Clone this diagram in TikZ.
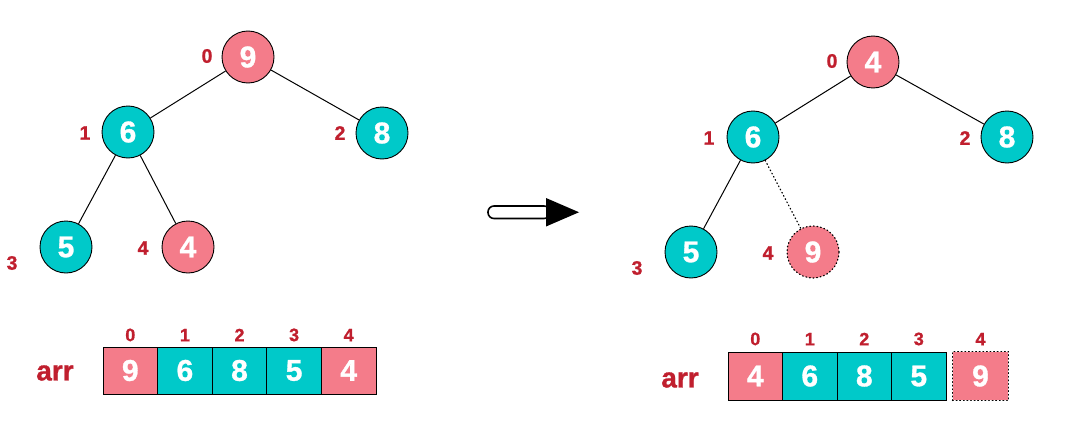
\documentclass[tikz,border=0pt]{standalone}
\usepackage{fontspec}
\setmainfont{Liberation Sans}[BoldFeatures={FakeBold=1}]
\definecolor{pinkc}{HTML}{F47C8A}
\definecolor{tealc}{HTML}{00C9C9}
\definecolor{labred}{HTML}{C01F2E}
\begin{document}
\begin{tikzpicture}[x=1pt,y=-1pt,
  hnode/.style={circle,draw=black,line width=0.9pt,minimum size=52pt,inner sep=0pt,
    text=white,font=\fontsize{30}{30}\selectfont\bfseries},
  pk/.style={fill=pinkc},
  tl/.style={fill=tealc},
  idx/.style={text=labred,font=\fontsize{19.5}{19.5}\selectfont\bfseries,inner sep=0pt},
  aidx/.style={text=labred,font=\fontsize{18}{18}\selectfont\bfseries,inner sep=0pt},
  arrlab/.style={text=labred,font=\fontsize{28}{28}\selectfont\bfseries,inner sep=0pt},
  cell/.style={draw=black,line width=0.9pt,minimum width=54.6pt,minimum height=47pt,inner sep=0pt,
    text=white,font=\fontsize{30}{30}\selectfont\bfseries},
  edge/.style={line width=1pt},
  dotline/.style={line width=1.2pt,dash pattern=on 0.8pt off 2.8pt,line cap=round}
]
\useasboundingbox (0,0) rectangle (1086,420);

% ---------- left tree ----------
\node[hnode,pk] (a0) at (248,57) {9};
\node[hnode,tl] (a1) at (128,132) {6};
\node[hnode,tl] (a2) at (382,133) {8};
\node[hnode,tl] (a3) at (66,247) {5};
\node[hnode,pk] (a4) at (188,247) {4};
\draw[edge] (a0) -- (a1);
\draw[edge] (a0) -- (a2);
\draw[edge] (a1) -- (a3);
\draw[edge] (a1) -- (a4);
\node[idx] (la0) at (207,56) {0};
\node[idx] (la1) at (85,133) {1};
\node[idx] (la2) at (340,133) {2};
\node[idx] (la3) at (12,263) {3};
\node[idx] (la4) at (143,248) {4};

% ---------- left array ----------
\node[arrlab] (arrA) at (55,373) {arr};
\node[cell,pk] (c0) at (130.3,370.5) {9};
\node[cell,tl] (c1) at (184.9,370.5) {6};
\node[cell,tl] (c2) at (239.5,370.5) {8};
\node[cell,tl] (c3) at (294.1,370.5) {5};
\node[cell,pk] (c4) at (348.7,370.5) {4};
\foreach \i in {0,...,4} \node[aidx,above=5pt] (ci\i) at (c\i.north) {\i};

% ---------- arrow ----------
\draw[line width=1.6pt,fill=white,rounded corners=6pt] (488,206) rectangle (550,218.5);
\fill (546,198) -- (579,212.25) -- (546,226.5) -- cycle;

% ---------- right tree ----------
\node[hnode,pk] (b0) at (873,62) {4};
\node[hnode,tl] (b1) at (753,137) {6};
\node[hnode,tl] (b2) at (1007,137) {8};
\node[hnode,tl] (b3) at (691,252) {5};
\node[circle,minimum size=52pt,inner sep=0pt,fill=pinkc,text=white,
  font=\fontsize{30}{30}\selectfont\bfseries] (b4) at (813,252) {9};
\draw[dotline] (b4.center) circle (26pt);
\draw[edge] (b0) -- (b1);
\draw[edge] (b0) -- (b2);
\draw[edge] (b1) -- (b3);
\draw[dotline] (b1) -- (b4);
\node[idx] (lb0) at (832,61) {0};
\node[idx] (lb1) at (709,138) {1};
\node[idx] (lb2) at (965,138) {2};
\node[idx] (lb3) at (637,268) {3};
\node[idx] (lb4) at (768,253) {4};

% ---------- right array ----------
\node[arrlab] (arrB) at (680,380) {arr};
\node[cell,pk,minimum height=48pt,minimum width=54.5pt] (d0) at (755.3,376) {4};
\node[cell,tl,minimum height=48pt,minimum width=54.5pt] (d1) at (809.8,376) {6};
\node[cell,tl,minimum height=48pt,minimum width=54.5pt] (d2) at (864.3,376) {8};
\node[cell,tl,minimum height=48pt,minimum width=54.5pt] (d3) at (918.8,376) {5};
\node[cell,pk,draw=none,minimum height=48pt,minimum width=55pt] (d4) at (980.5,376) {9};
\draw[dotline] (d4.south west) rectangle (d4.north east);
\foreach \i in {0,...,4} \node[aidx,above=6pt] (di\i) at (d\i.north) {\i};
\end{tikzpicture}
\end{document}
